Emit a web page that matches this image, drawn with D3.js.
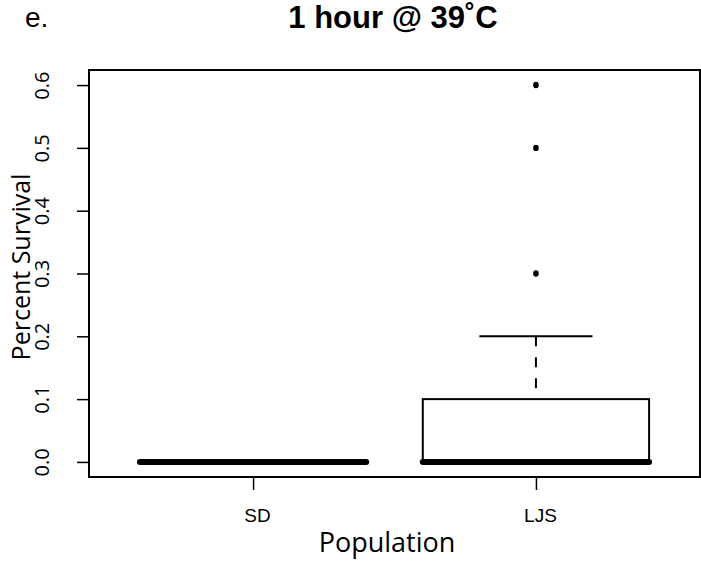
<!DOCTYPE html>
<html>
<head>
<meta charset="utf-8">
<script src="https://cdn.jsdelivr.net/npm/d3@7"></script>
<style>
  html, body { margin: 0; padding: 0; background: #fff; }
  svg { display: block; }
</style>
</head>
<body>
<svg id="chart" width="701" height="568"></svg>
<script>
// Survival summaries per population (five-number summary + outliers)
const populations = ["SD", "LJS"];
const lowerWhisker = [0.0, 0.0];
const lowerHinge   = [0.0, 0.0];
const medians      = [0.0, 0.0];
const upperHinge   = [0.0, 0.1];
const upperWhisker = [0.0, 0.2];
const outliers     = [[], [0.3, 0.5, 0.6]];
const yTicks = [0.0, 0.1, 0.2, 0.3, 0.4, 0.5, 0.6];

const svg = d3.select("#chart");
const plot = { left: 89, right: 700, top: 70, bottom: 477 };

// R-style axis ranges: categories at 1..n, padded by 4%
const x = d3.scaleLinear().domain([0.42, 2.58]).range([plot.left, plot.right]);
const y = d3.scaleLinear().domain([-0.024, 0.624]).range([plot.bottom, plot.top]);
const boxHalf = x(1.4) - x(1);
const capHalf = boxHalf / 2;

const rows = populations.map((p, i) => ({
  name: p, pos: i + 1,
  lo: lowerWhisker[i], q1: lowerHinge[i], med: medians[i],
  q3: upperHinge[i], hi: upperWhisker[i], out: outliers[i]
}));

const g = svg.append("g");

rows.forEach(r => {
  const cx = x(r.pos);
  // whiskers (dashed), drawn from whisker end to hinge
  if (r.hi > r.q3) {
    g.append("line").attr("x1", cx).attr("x2", cx)
      .attr("y1", y(r.hi)).attr("y2", y(r.q3))
      .attr("stroke", "#000").attr("stroke-width", 2).attr("stroke-dasharray", "10,11");
    g.append("line").attr("x1", cx - capHalf).attr("x2", cx + capHalf)
      .attr("y1", y(r.hi)).attr("y2", y(r.hi))
      .attr("stroke", "#000").attr("stroke-width", 2);
  }
  if (r.lo < r.q1) {
    g.append("line").attr("x1", cx).attr("x2", cx)
      .attr("y1", y(r.lo)).attr("y2", y(r.q1))
      .attr("stroke", "#000").attr("stroke-width", 2).attr("stroke-dasharray", "10,11");
    g.append("line").attr("x1", cx - capHalf).attr("x2", cx + capHalf)
      .attr("y1", y(r.lo)).attr("y2", y(r.lo))
      .attr("stroke", "#000").attr("stroke-width", 2);
  }
  // box
  g.append("rect")
    .attr("x", cx - boxHalf).attr("width", 2 * boxHalf)
    .attr("y", y(r.q3)).attr("height", y(r.q1) - y(r.q3))
    .attr("fill", "#fff").attr("stroke", "#000").attr("stroke-width", 2);
  // median
  g.append("line")
    .attr("x1", cx - boxHalf).attr("x2", cx + boxHalf)
    .attr("y1", y(r.med)).attr("y2", y(r.med))
    .attr("stroke", "#000").attr("stroke-width", 6).attr("stroke-linecap", "round");
  // outliers
  g.selectAll(null).data(r.out).enter().append("ellipse")
    .attr("cx", cx).attr("cy", d => y(d))
    .attr("rx", 2.8).attr("ry", 3.2)
    .attr("fill", "#000");
});

// frame
svg.append("rect")
  .attr("x", plot.left).attr("y", plot.top)
  .attr("width", plot.right - plot.left).attr("height", plot.bottom - plot.top)
  .attr("fill", "none").attr("stroke", "#000").attr("stroke-width", 2);

// y axis
const yAxis = svg.append("g")
  .attr("transform", `translate(${plot.left},0)`)
  .call(d3.axisLeft(y).tickValues(yTicks).tickFormat(d3.format(".1f")).tickSize(12).tickSizeOuter(0));
yAxis.select(".domain").remove();
yAxis.selectAll(".tick line").attr("stroke", "#000").attr("stroke-width", 1.5);
yAxis.selectAll(".tick text")
  .attr("x", null).attr("dy", null)
  .attr("transform", "translate(-40,0) rotate(-90)")
  .attr("text-anchor", "middle")
  .attr("fill", "#000")
  .style("font-family", "'Open Sans', sans-serif")
  .style("font-size", "20px");

// x axis
const xAxis = svg.append("g")
  .attr("transform", `translate(0,${plot.bottom})`)
  .call(d3.axisBottom(x).tickValues([1, 2]).tickFormat(d => populations[d - 1]).tickSize(13).tickSizeOuter(0));
xAxis.select(".domain").remove();
xAxis.selectAll(".tick line").attr("stroke", "#000").attr("stroke-width", 1.5);
xAxis.selectAll(".tick text")
  .attr("y", 45).attr("dy", null).attr("x", 4)
  .attr("fill", "#000")
  .style("font-family", "'Liberation Sans', Arial, sans-serif")
  .style("font-size", "19px");

// axis titles
svg.append("text")
  .attr("x", 387).attr("y", 552)
  .attr("text-anchor", "middle")
  .style("font-family", "'Open Sans', sans-serif")
  .style("font-size", "27px")
  .text("Population");

svg.append("text")
  .attr("transform", "translate(30,267) rotate(-90)")
  .attr("text-anchor", "middle")
  .style("font-family", "'Open Sans', sans-serif")
  .style("font-size", "25px")
  .text("Percent Survival");

// title and panel letter
svg.append("text")
  .attr("x", 393).attr("y", 28)
  .attr("text-anchor", "middle")
  .style("font-family", "'Liberation Sans', Arial, sans-serif")
  .style("font-weight", "bold")
  .style("font-size", "31px")
  .text("1 hour @ 39˚C");

svg.append("text")
  .attr("x", 25).attr("y", 27)
  .style("font-family", "'Liberation Sans', Arial, sans-serif")
  .style("font-size", "28px")
  .text("e.");
</script>
</body>
</html>
